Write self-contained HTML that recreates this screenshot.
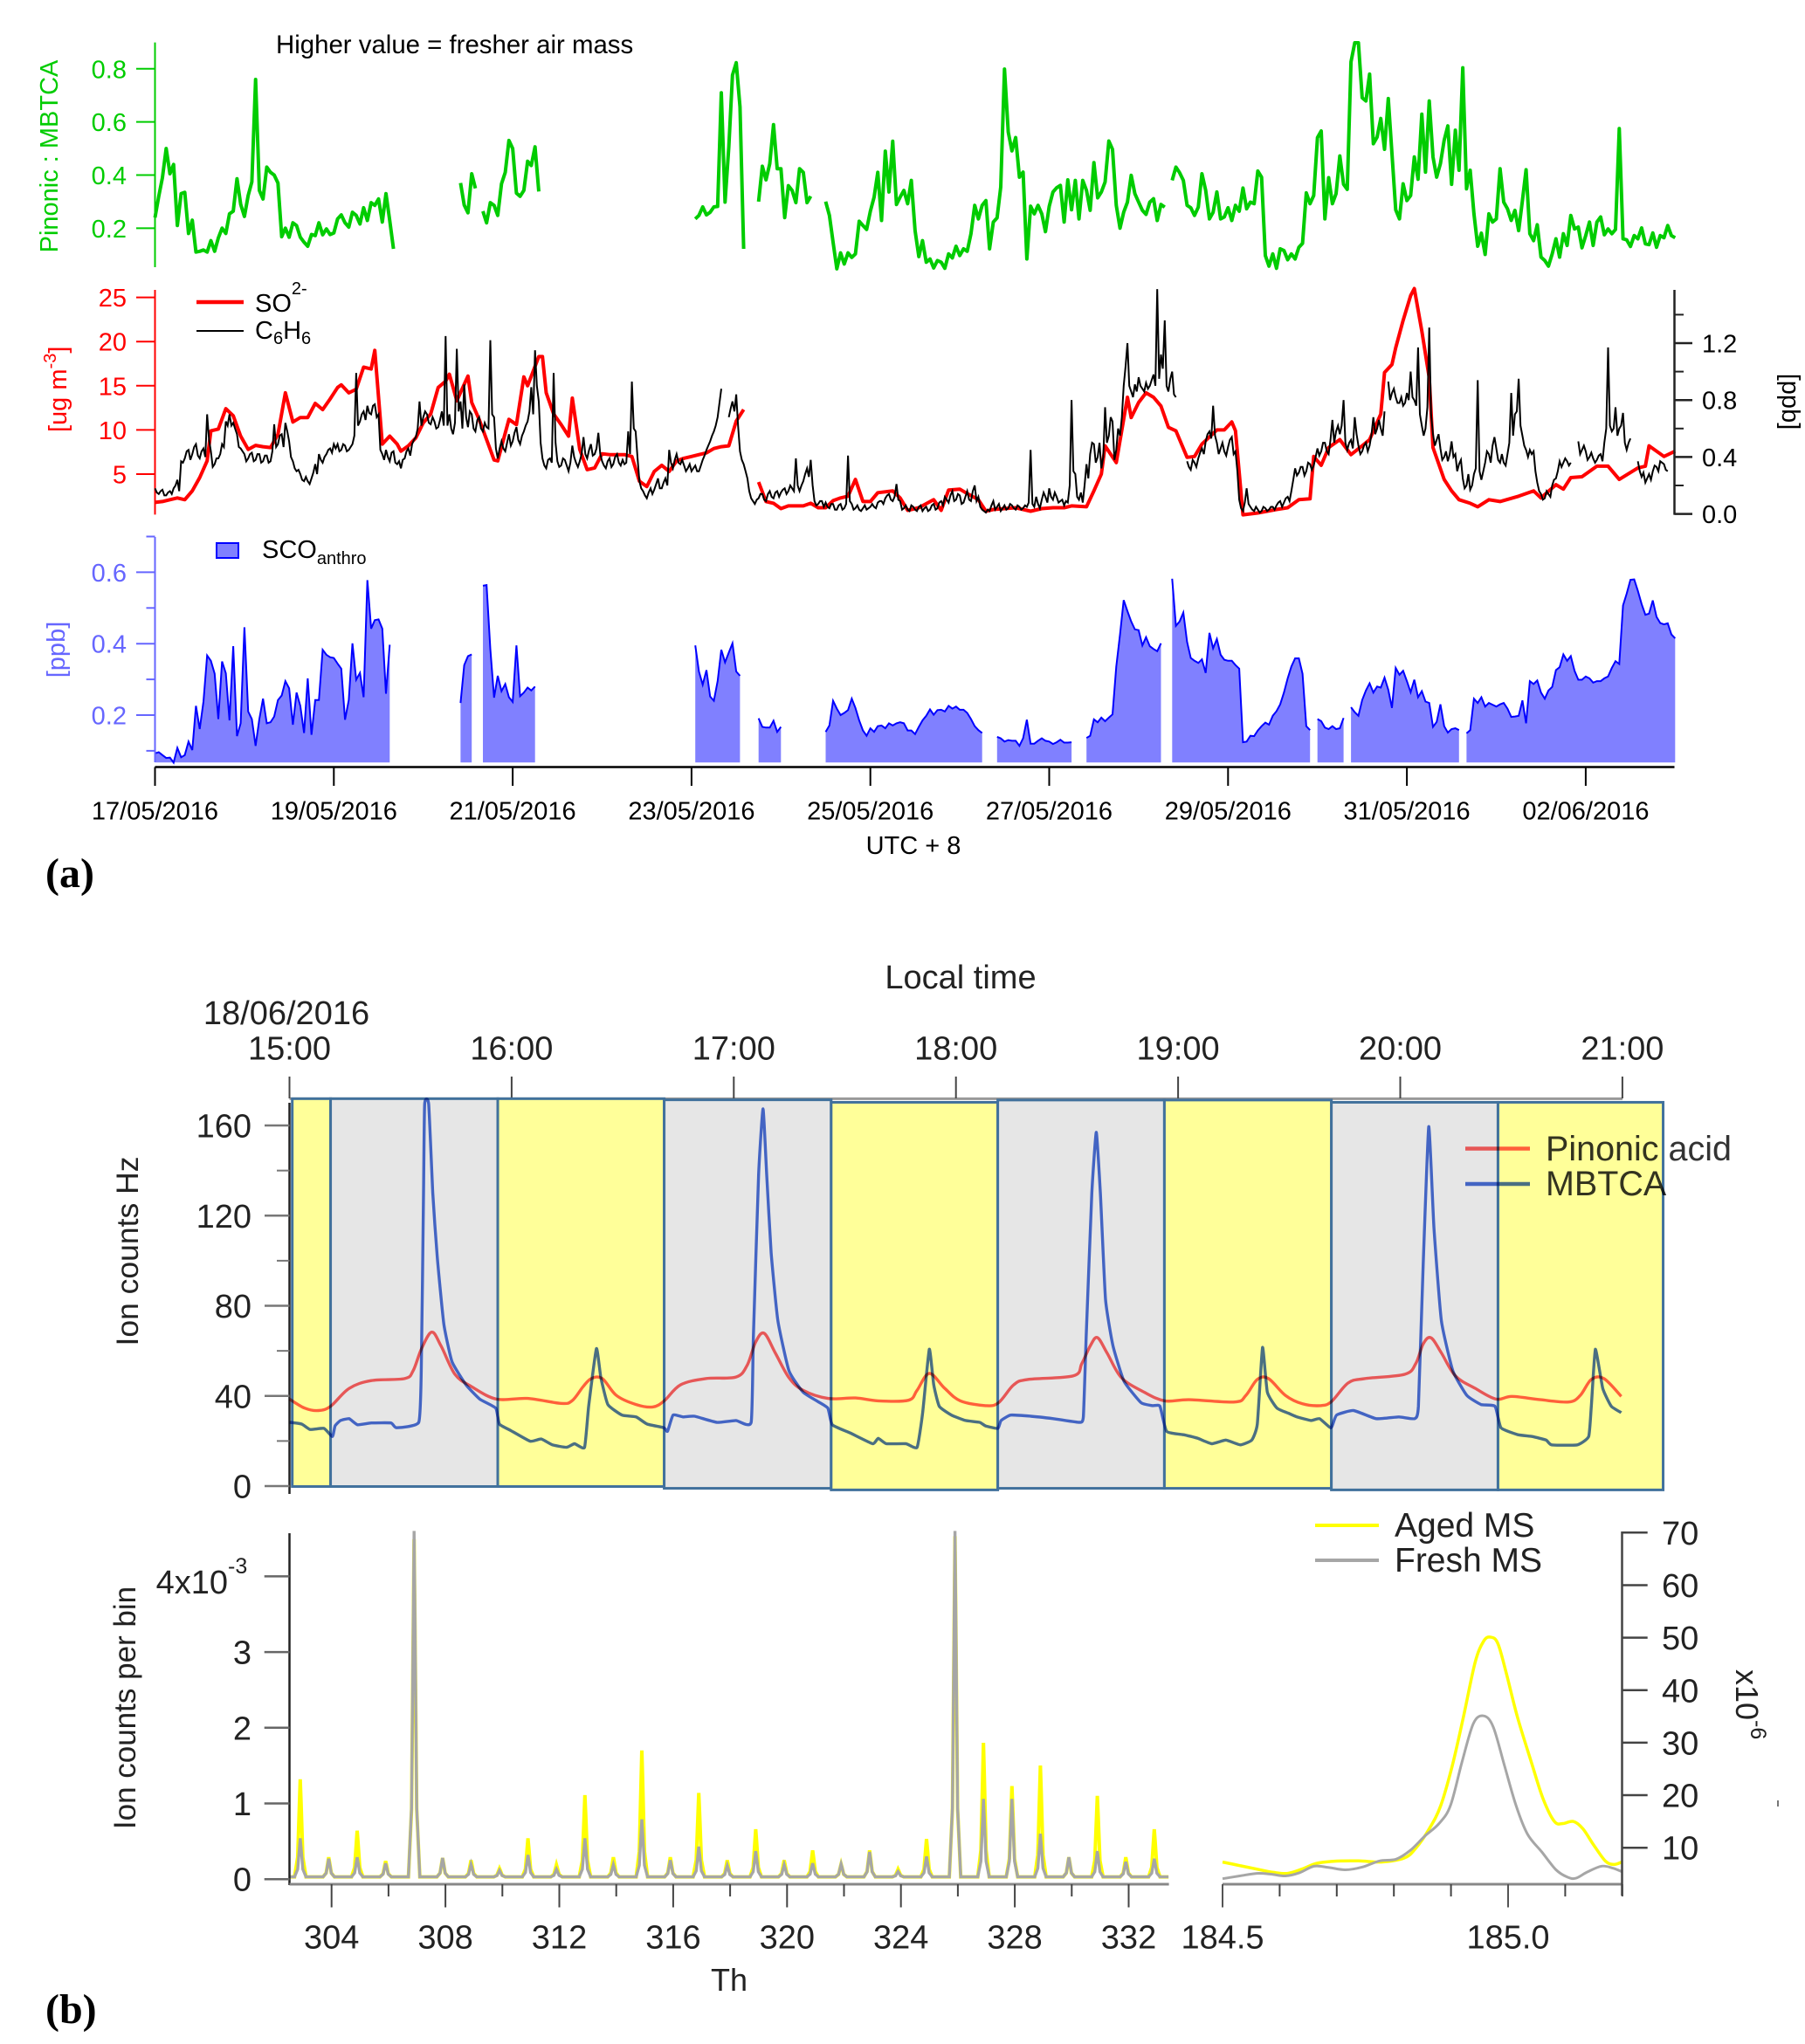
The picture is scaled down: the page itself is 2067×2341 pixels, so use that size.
<!DOCTYPE html>
<html lang="en">
<head>
<meta charset="utf-8">
<title>Pinonic acid and MBTCA time series and mass spectra</title>
<style>
html,body{margin:0;padding:0;background:#fff;}
svg{display:block;font-family:"Liberation Sans",Arial,sans-serif;}
.mult{mix-blend-mode:multiply;}
</style>
</head>
<body>
<svg id="fig" xmlns="http://www.w3.org/2000/svg" width="2067" height="2341" viewBox="0 0 2067 2341">
<rect x="0" y="0" width="2067" height="2341" fill="#fff"/>
<g id="layerA"></g>
<g id="layerB"></g>

<text x="316" y="61" font-size="29.4" fill="#000">Higher value = fresher air mass</text>
<text transform="translate(66,179) rotate(-90)" text-anchor="middle" font-size="29" fill="#00cc00">Pinonic : MBTCA</text>
<text transform="translate(76,495) rotate(-90)" font-size="29" fill="#ff0000">[ug m<tspan font-size="20" dy="-12">-3</tspan><tspan dy="12">]</tspan></text>
<text transform="translate(2041,460) rotate(90)" text-anchor="middle" font-size="29" fill="#000">[ppb]</text>
<text transform="translate(74,744) rotate(-90)" text-anchor="middle" font-size="29" fill="#6666ff">[ppb]</text>

<line x1="225" y1="346" x2="279" y2="346" stroke="#ff0000" stroke-width="4.5"/>
<text x="292" y="357" font-size="29" fill="#000">SO<tspan font-size="20" dy="-20">2-</tspan></text>
<line x1="225" y1="379" x2="279" y2="379" stroke="#000" stroke-width="2"/>
<text x="292" y="388" font-size="29" fill="#000">C<tspan font-size="20" dy="6">6</tspan><tspan dy="-6">H</tspan><tspan font-size="20" dy="6">6</tspan></text>

<rect x="248" y="622" width="25" height="17" fill="#8080ff" stroke="#0000ff" stroke-width="2"/>
<text x="300" y="639" font-size="29" fill="#000">SCO<tspan font-size="20" dy="7">anthro</tspan></text>

<text x="1046" y="978" text-anchor="middle" font-size="29" fill="#000">UTC + 8</text>
<text x="52" y="1016" font-family="Liberation Serif, serif" font-weight="bold" font-size="48" fill="#000">(a)</text>

<text x="1100" y="1132" text-anchor="middle" font-size="38" fill="#222">Local time</text>
<text x="328" y="1173" text-anchor="middle" font-size="38" fill="#222">18/06/2016</text>
<text transform="translate(158,1433) rotate(-90)" text-anchor="middle" font-size="35.5" fill="#222">Ion counts Hz</text>
<text transform="translate(155,1956) rotate(-90)" text-anchor="middle" font-size="35" fill="#222">Ion counts per bin</text>
<text x="835" y="2280" text-anchor="middle" font-size="36" fill="#222">Th</text>
<text x="52" y="2317" font-family="Liberation Serif, serif" font-weight="bold" font-size="48" fill="#000">(b)</text>

<text x="261" y="1825" text-anchor="end" font-size="38" fill="#222">4x10</text>
<text x="261" y="1802" font-size="25" fill="#222">-3</text>
<text transform="translate(1988,1912) rotate(90)" font-size="36" fill="#222">x10<tspan font-size="25" dy="-17">-6</tspan></text>
<rect x="2035" y="2062" width="2" height="7" fill="#777"/>

<line x1="1506" y1="1747" x2="1579" y2="1747" stroke="#ffff00" stroke-width="4"/>
<text x="1597" y="1760" font-size="39" fill="#222">Aged MS</text>
<line x1="1506" y1="1787" x2="1579" y2="1787" stroke="#a6a6a6" stroke-width="4"/>
<text x="1597" y="1800" font-size="39" fill="#222">Fresh MS</text>
</svg>

<script>
// ---------- Panel (a) data: hourly series, index = hours since 17/05/2016 00:00 ----------
const pinonicRatio = [
.24,.32,.39,.50,.405,.44,.21,.33,.335,.18,.23,.11,.113,.118,.11,.153,.113,.163,.20,.18,.254,.264,.386,.29,.244,.323,.374,.76,.342,.31,.43,.41,.40,.37,.168,.20,.166,.22,.21,.166,.147,.132,.176,.172,.22,.175,.197,.176,.182,.235,.25,.22,.204,.26,.248,.216,.277,.229,.296,.286,.31,.223,.33,.229,.122,
null,null,null,null,null,null,null,null,null,null,null,null,null,null,null,null,null,
.37,.287,.258,.405,.35,null,
.264,.22,.296,.286,.248,.367,.41,.53,.50,.332,.32,.342,.452,.436,.506,.338,
null,null,null,null,null,null,null,null,null,null,null,null,null,null,null,null,null,null,null,null,null,null,null,null,null,null,null,null,null,null,null,null,null,null,null,null,null,null,null,null,null,
.235,.248,.28,.25,.26,.28,.282,.71,.298,.506,.776,.823,.657,.122,
null,null,null,
.30,.433,.382,.443,.59,.424,.424,.24,.36,.342,.296,.424,.41,.296,.32,
null,null,null,
.30,.248,.147,.047,.107,.065,.107,.09,.103,.226,.21,.195,.264,.317,.41,.229,.49,.336,.527,.289,.317,
.342,.292,.38,.191,.093,.153,.072,.084,.05,.078,.072,.049,.103,.088,.132,.097,.122,.113,.179,.286,.235,.286,.304,.122,.223,.239,.355,.799,.562,.491,.541,.392,.411,.084,.283,.254,.286,.254,.187,.282,.336,.352,.361,.223,.382,.269,.38,.235,.38,.342,.267,.447,.314,.336,.374,.528,.497,.286,.2,.26,.298,.399,.33,.298,.267,.252,.298,.311,.229,.289,.279,
null,
.38,.43,.409,.38,.286,.277,.248,.279,.405,.342,.235,.26,.336,.235,.242,.277,.229,.286,.264,.351,.273,.298,.292,.415,.392,.097,.057,.103,.049,.122,.116,.081,.103,.084,.128,.143,.333,.292,.323,.541,.566,.235,.39,.292,.33,.472,.365,.346,.826,.898,.898,.691,.679,.78,.518,.543,.613,.497,.688,.481,.269,.235,.367,.304,.323,.468,.384,.629,.411,.679,.468,.392,.443,.531,.585,.365,.569,.418,.804,.348,.418,.254,.132,.181,.101,.254,.223,.235,.424,.298,.273,.229,.267,.191,.304,.42,.179,.153,.213,.091,.078,.057,.103,.16,.091,.179,.135,.248,.197,.204,.126,.172,.223,.135,.223,.242,.175,.197,.179,.195,.575,.16,.156,.131,.172,.16,.201,.141,.138,.182,.128,.172,.164,.21,.172,.164];

const sulfateHours = [0,2,4,6,8,10,12,14,15,17,19,21,23,25,27,29,31,33,35,37,39,41,43,45,47,49,50,52,54,56,58,59,61,63,65,66,68,70,72,74,76,78,79,81,84,85,87,91,92,95,97,99,100,103,104,105,107,109,111,112,114,116,118,120,122,124,126,128,130,132,134,136,138,140,142,144,146,148,150,152,154,156,158,160,
162,164,166,168,170,172,174,176,178,180,182,184,186,188,190,192,194,198,200,
202,205,209,211,213,216,218,221,223,225,228,231,235,238,241,244,246,250,252,254,255,258,261,262,264,266,268,270,272,274,277,279,281,285,287,289,290,292,296,301,304,307,310,311,313,315,318,321,324,326,329,330,332,333,335,337,338,340,342,343,346,348,350,353,355,358,361,366,370,372,376,378,380,383,387,390,393,398,400,401,405,408];
const sulfateValues = [1.8,1.9,2.1,2.3,2.1,3.1,4.6,6.5,9.9,10.1,12.4,11.6,9.3,7.8,8.25,8.1,8,9.5,14.2,10.9,11.4,11.4,13,12.3,13.5,14.8,15.1,14.2,14.6,17.1,16.9,19,8.4,9.3,8.4,7.6,8.2,9.1,10.8,11.8,14.8,15.5,16.3,13.3,16.1,13.1,11.2,6.6,6.5,11.2,10.6,16,15,18.3,18.3,14.2,11.8,10.6,9.3,13.6,7.8,5.5,5.7,7.3,7.2,7.2,7.2,7,4.2,3.6,5.3,6,5.3,6.5,6.8,7,7.2,7.4,7.9,8.1,8.2,11,12.3,null,
4.1,1.9,1.7,1.1,1.4,1.4,1.4,1.7,1.2,1.2,2,2.3,2.5,4.4,1.9,1.9,2.9,3.1,2.3,
.9,1.2,2.1,.9,3.2,3.3,2.8,2.1,.8,1,1.1,1.2,.8,1.1,1.2,1.2,1.4,1.3,3.1,5,8.2,6.3,13.7,11.4,13.1,14.2,13.7,12.7,10.3,9.9,6.9,7,8.4,10,10,10.9,9.9,.4,.6,1,1.2,2.1,2.2,7,6,8,8.9,7.2,8.2,8.9,11.8,16.5,17.4,19.3,22.4,25.2,26,21.2,15.9,8,4.4,3.1,2.1,1.7,1.3,2.1,1.9,2.5,3.1,2.3,3.8,3.3,4.6,4.7,5.9,5.9,4.4,5.7,5.9,8.2,7,7.6];

// benzene readings on the hour
const benzeneValues = [
.18,.14,.17,.13,.16,.18,.24,.37,.39,.45,.42,.49,.39,.46,.70,.44,.35,.39,.49,.65,
.70,.64,.56,.46,.42,.39,.43,.38,.42,.37,.41,.37,.63,.49,.56,.64,.51,.37,.30,.28,
.23,.23,.25,.35,.42,.36,.42,.46,.49,.49,.45,.48,.45,.49,.99,.65,.72,.76,.70,.77,
.70,.42,.45,.37,.44,.35,.32,.39,.46,.49,.54,.79,.68,.70,.63,.65,.61,.72,1.25,.70,
.56,1.16,.79,.91,.61,.70,.58,.68,.58,.61,1.22,.68,.39,.51,.44,.56,.51,.61,.49,.58,
.65,.89,1.15,.79,.39,.32,.39,.99,.37,.34,.38,.30,.48,.36,.37,.54,.39,.49,.42,.57,
.37,.32,.39,.35,.42,.34,.35,.58,.93,.58,.23,.16,.11,.18,.17,.25,.18,.25,.45,.32,
.42,.35,.34,.32,.30,.34,.30,.38,.45,.51,.58,.68,.88,null,.68,.79,.84,.44,.35,.25,
.11,.07,.11,.14,.09,.16,.11,.16,.15,.18,.16,.18,.39,.16,.23,.32,.38,.09,.07,.09,
.08,.04,.07,.03,.07,.04,.41,.07,.04,.03,.04,.03,.05,.05,.08,.09,.11,.14,.09,.21,
.09,.04,.03,.06,.03,.05,.02,.05,.03,.07,.04,.09,.12,.08,.16,.1,.13,.08,.16,.09,
.2,.12,.03,.01,.02,.09,.05,.02,.06,.04,.06,.03,.05,.04,.05,.45,.05,.07,.1,.12,
.18,.1,.12,.09,.06,.08,.8,.28,.1,.08,.35,.42,.49,.4,.32,.75,.55,.65,.45,.55,
.9,1.2,.86,.91,.96,.88,.92,.9,.98,1.58,1.12,1.36,.86,1,.82,null,null,.37,.31,.36,
.39,.46,.51,.58,.76,.5,.46,.44,.47,.54,.44,.1,.02,.18,.05,.02,.03,.02,.04,.03,
.05,.06,.09,.08,.12,.16,.32,.29,.33,.3,.35,.34,.46,.44,.5,.42,.66,.58,.56,.8,
.45,.52,.68,.48,.44,.5,.48,.68,.6,.6,.72,.93,.85,.82,.78,.76,.85,1,.8,1.17,
.62,.6,1.31,.56,.52,.46,.4,.37,.51,.42,.35,.25,.2,.17,.28,.94,.24,.36,.42,.48,
.46,.36,.36,.42,.85,.7,.95,.55,.45,.45,.44,.22,.14,.11,.14,.2,.25,.37,.36,.37,
.36,null,.51,.45,.44,.4,.39,.38,.42,.5,1.17,.58,.75,.6,.71,.45,.53,null,.37,.26,
.22,.28,.3,.33,.37,.35,.3];
// benzene readings on the half hour
const benzeneHalfHourValues = [
.15,.16,.13,.15,.14,.2,.16,.36,.44,.38,.47,.41,.44,.4,.52,.33,.39,.42,.47,.62,
.62,.6,.47,.44,.37,.42,.37,.42,.36,.41,.36,.44,.47,.55,.47,.58,.4,.32,.31,.24,
.26,.21,.29,.28,.38,.4,.45,.43,.46,.44,.49,.44,.47,.55,.62,.7,.66,.71,.76,.68,
.45,.38,.4,.43,.36,.37,.38,.44,.41,.52,.6,.62,.72,.64,.68,.6,.66,.62,.62,.6,
.64,.72,.6,.68,.72,.6,.66,.6,.64,.6,.7,.46,.46,.46,.5,.48,.57,.52,.55,.62,
.72,.7,.9,.5,.34,.38,.36,.5,.33,.39,.34,.36,.4,.33,.42,.42,.45,.41,.46,.42,
.34,.37,.33,.4,.36,.38,.36,.42,.6,.4,.18,.13,.15,.14,.21,.18,.22,.2,.36,.38,
.36,.38,.3,.35,.32,.3,.34,.41,.48,.55,.62,.78,null,null,.74,.72,.62,.38,.3,.16,
.09,.1,.14,.1,.14,.12,.15,.12,.17,.14,.2,.16,.2,.2,.28,.26,.2,.06,.09,.05,
.05,.07,.03,.06,.03,.07,.09,.03,.06,.02,.06,.04,.07,.04,.09,.07,.13,.1,.12,.1,
.03,.06,.02,.05,.02,.06,.04,.02,.06,.03,.08,.06,.1,.13,.09,.14,.07,.12,.1,.16,
.09,.05,.02,.03,.06,.03,.07,.04,.03,.07,.04,.06,.03,.06,.08,.07,.12,.04,.15,.08,
.12,.15,.08,.1,.09,.2,.3,.12,.15,.2,.25,.5,.36,.5,.4,.5,.68,.38,.6,.68,
1.04,.9,.82,.86,.9,.86,.88,.94,.9,.95,1.02,.9,.95,.84,null,null,null,.33,.38,.33,
.43,.42,.56,.53,.55,.42,.5,.41,.52,.42,.3,.04,.08,.07,.03,.05,.01,.05,.02,.05,
.03,.08,.05,.11,.09,.24,.27,.33,.27,.36,.31,.4,.41,.5,.44,.52,.5,.62,.62,.5,
.5,.46,.56,.42,.48,.44,.56,.56,.66,.55,null,.8,.88,.78,.82,.78,.8,.82,.76,.7,
.55,.75,.7,.48,.56,.38,.44,.42,.4,.3,.38,.18,.28,.2,.32,.3,.3,.44,.36,.54,
.38,.42,.34,.5,.55,.72,.62,.48,.4,.42,.3,.16,.1,.16,.12,.24,.3,.33,.39,.34,
null,null,.42,.48,.38,.43,.36,.41,.37,.6,.62,.6,.55,.62,.5,.5,null,null,.3,.29,
.25,.24,.34,.3,.36,.31];

const scoValues = [
.093,.096,.088,.08,.081,.067,.108,.082,.088,.126,.102,.226,.161,.238,.367,.352,.316,.189,.35,.317,.185,.393,.141,.177,.446,.21,.189,.114,.189,.246,.177,.18,.196,.242,.255,.295,.275,.173,.263,.226,.15,.303,.145,.242,.242,.383,.369,.362,.36,.344,.33,.187,.242,.401,.299,.318,.25,.578,.442,.466,.468,.442,.26,.397,
null,null,null,null,null,null,null,null,null,null,null,null,null,null,null,null,null,null,
.234,.34,.365,.37,null,null,
.562,.564,.385,.249,.31,.267,.287,.25,.237,.395,.253,.263,.277,.269,.28,
null,null,null,null,null,null,null,null,null,null,null,null,null,null,null,null,null,null,null,null,null,null,null,null,null,null,null,null,null,null,null,null,null,null,null,null,null,null,null,null,null,null,
.395,.322,.285,.326,.252,.24,.295,.383,.348,.375,.401,.322,.31,
null,null,null,null,
.191,.167,.165,.165,.184,.153,.167,
null,null,null,null,null,null,null,null,null,null,null,
.153,.171,.24,.218,.2,.206,.214,.246,.22,.185,.157,.142,.163,.153,.169,.171,.163,.177,.171,.177,.18,
.177,.157,.157,.147,.167,.185,.198,.216,.201,.214,.215,.21,.226,.218,.224,.215,.215,.206,.189,.169,.158,.15,
null,null,null,
.139,.135,.126,.13,.128,.128,.114,.135,.187,.12,.12,.128,.135,.128,.126,.119,.124,.131,.123,.123,.124,
null,null,null,
.136,.142,.188,.18,.193,.183,.193,.202,.336,.426,.522,.491,.462,.44,.438,.395,.418,.393,.385,.379,.401,
null,null,
.582,.45,.462,.487,.405,.36,.352,.346,.356,.318,.43,.387,.413,.369,.355,.352,.352,.34,.33,.124,.126,.142,.141,.157,.169,.179,.173,.198,.211,.23,.263,.303,.336,.359,.359,.316,.169,.158,
null,
.189,.183,.165,.161,.169,.161,.163,.192,
null,
.222,.208,.198,.242,.269,.289,.263,.28,.277,.305,.271,.22,.332,.313,.324,.295,.264,.299,.25,.267,.238,.234,.167,.181,.23,.169,.151,.161,.163,.158,
null,
.149,.158,.246,.234,.25,.224,.234,.229,.224,.23,.234,.218,.195,.196,.198,.241,.177,.295,.287,.297,.263,.246,.269,.279,.326,.334,.37,.352,.365,.324,.299,.299,.308,.303,.291,.295,.295,.303,.308,.332,.351,.343,.507,.54,.579,.58,.548,.511,.481,.484,.521,.475,.458,.454,.457,.426,.415];

const ratioTicks = [0.2,0.4,0.6,0.8];
const sulfateTicks = [5,10,15,20,25];
const benzeneMajorTicks = [0,0.4,0.8,1.2];
const benzeneMinorTicks = [0.2,0.6,1.0,1.4];
const scoMajorTicks = [0.2,0.4,0.6];
const scoMinorTicks = [0.1,0.3,0.5,0.7];
const dateTickDays = [0,2,4,6,8,10,12,14,16];
const dateTickLabels = ['17/05/2016','19/05/2016','21/05/2016','23/05/2016','25/05/2016','27/05/2016','29/05/2016','31/05/2016','02/06/2016'];

// ---------- Panel (b) top data: minutes since 15:00 ----------
const mbtcaMinutes = [0,3.3,5.6,9.3,11.6,12.3,13.8,16.1,18.4,22.1,27.4,28.9,34.9,35.6,36.2,36.5,37.6,38.7,39.9,41.7,43.9,47.7,51.4,55.7,56.7,59.7,65,68,71,74.8,77,79.7,80.8,82.9,84.1,86,89.8,93.6,96.6,101.1,102.1,103.6,106.3,109.4,115.4,120.6,124.7,125.3,126.7,127.9,128.9,130.1,131.9,134.9,138.7,142.4,145.4,146.6,151.4,157.5,159,161.2,166.5,169.5,171,172.8,174,175.5,178.8,182.6,186.4,188,191.3,192.2,194.8,200.2,206.3,213.2,214.4,215.2,216.7,217.9,219,220.4,222.4,225.4,230,233.1,235.1,236.9,241.5,245.3,249.1,252.9,256.8,259.9,261.4,262.8,264.1,266.7,269.8,272.1,275.9,278.2,281.3,282.8,287.4,293.5,299.6,303.9,304.9,306.2,307.7,309.1,311.1,314.2,318,321.8,325.6,327.2,331.8,335.6,339.4,340.9,347.8,350.9,351.6,352.7,354.7,357,359.7];
const mbtcaCounts = [28.3,27.5,25.1,25.6,22,26.7,29.1,29.9,27.2,28,28,25.9,28.3,51.2,130,169.5,169.5,130,101.8,71.8,55.2,44.9,38.6,34.6,27.5,24.7,19.9,20.9,18.3,17.2,18.8,17.2,35.4,61,48.1,36.2,31.5,30.7,27.5,25.9,24.3,31.5,30.7,31,28.3,29.1,28.3,67,138,167.4,138,103.4,73.4,51.2,41.7,37.8,34.6,27.2,23.6,18.8,21.2,18.8,18.8,17.2,32.3,60.7,44.9,35.4,31.5,29.1,28.3,26.7,25.6,29.1,31.5,31,29.9,28.3,30.7,67,130,157,130,82.8,62.3,46.5,37,35.7,35.4,24.3,22.8,21.2,18.8,20.4,18.3,20.4,27.5,61.5,41.7,34.6,32.3,30.7,29.1,29.9,25.9,31.5,33.5,29.9,30.7,29.9,35.4,98.7,159.5,114.5,73.4,51.2,40.2,36.2,35.4,25.9,22.8,22,20.4,18.3,18.3,22,35.4,60.7,43.3,35.4,32.6];
const pinonicMinutes = [0,4.1,7.8,11.1,16.1,22.1,31.1,33.4,35.6,38.4,40.9,44.7,49.2,55.9,64.2,73.3,76.3,79.3,81.5,84.5,88.3,93.6,98.1,101.2,105.6,112.4,120.6,123.6,125.9,128.2,131.2,134.9,138.7,145.4,152.9,159,167.2,169.5,172.8,177,181.2,188,191.5,195.6,199.4,211.7,214,216.3,218.2,220.8,224.7,230.8,236.4,243,255.3,258.3,261.4,264.4,269,273.6,278.2,281.3,285.9,290.4,301.2,304.2,306.2,308.3,311.1,314.9,320.3,325.9,330.2,337.9,345.5,348.6,351.6,355,359.7];
const pinonicCounts = [38.6,34.6,33.5,35.4,43.3,46.8,47.7,51.2,60.7,68.3,62.3,49.6,44.1,38.6,38.9,36.7,37.8,44.1,47.7,47.7,40.2,36.2,35.1,37.8,44.9,47.7,48.4,53.6,63.9,67.8,59.1,48.1,42.5,38.9,39.1,37.8,38.1,42.5,50,43.3,37.8,35.7,37,44.9,47.3,48.9,54.4,62.3,65.9,59.1,48.1,41.7,37.8,38.3,37.3,40.2,47.3,47.7,40.2,36.5,35.7,37.3,45.7,47.7,49.6,54.4,63.1,65.8,59.1,48.9,43.3,38.6,39.8,38.3,37.3,40.2,47.3,47.7,39.8];
const bandEdges = [0.75,11.1,56.25,101.2,146.3,191.3,236.3,281.4,326.4,371];
const bandTypes = ['aged','fresh','aged','fresh','aged','fresh','aged','fresh','aged'];
const bandTop = [171.9,171.9,171.9,171.4,170.3,171.3,171.3,170.3,170.3];
const bandBottom = [-0.2,-0.2,-0.2,-1,-1.7,-1,-1,-1.7,-1.7];
const timeTickMinutes = [0,60,120,180,240,300,360];
const timeTickLabels = ['15:00','16:00','17:00','18:00','19:00','20:00','21:00'];
const countMajorTicks = [0,40,80,120,160];
const countMinorTicks = [20,60,100,140];

// ---------- Panel (b) bottom data ----------
const peakMass = [302.9,303.9,304.9,305.9,306.9,307.9,308.9,309.9,310.9,311.9,312.9,313.9,314.9,315.9,316.9,317.9,318.9,319.9,320.9,321.9,322.9,323.9,324.9,325.9,326.9,327.9,328.9,329.9,330.9,331.9,332.9];
const agedPeak = [1.29,.26,.61,.21,4.46,.25,.22,.11,.51,.16,1.08,.26,1.67,.26,1.11,.22,.63,.22,.35,.17,.35,.1,.5,4.5,1.77,1.2,1.47,.26,1.07,.26,.63];
const freshPeak = [.51,.24,.26,.18,4.57,.25,.17,.085,.29,.1,.51,.16,.76,.22,.4,.15,.34,.16,.18,.17,.33,.07,.27,4.57,1.03,1.03,.57,.26,.34,.2,.24];
const peakYTicks = [0,1,2,3,4];
const peakYLabels = ['0','1','2','3',''];
const massMajorTicks = [304,308,312,316,320,324,328,332];
const massMinorTicks = [306,310,314,318,322,326,330];
const agedZoomMass = [184.5,184.53,184.56,184.589,184.614,184.639,184.664,184.694,184.738,184.778,184.818,184.838,184.862,184.882,184.902,184.922,184.942,184.957,184.969,184.982,184.997,185.016,185.041,185.061,185.081,185.096,185.114,185.131,185.15,185.17,185.185,185.2];
const agedZoomSignal = [7.28,6.6,5.92,5.31,5.11,5.92,7.01,7.42,7.49,7.28,8.03,9.86,13.6,18,25.5,35,45.2,49.3,50.1,48.9,43.2,35,26.2,19.4,15,14.6,15,13.6,10.5,7.5,6.8,7.3];
const freshZoomMass = [184.5,184.53,184.56,184.585,184.61,184.635,184.66,184.685,184.715,184.745,184.775,184.804,184.829,184.854,184.879,184.899,184.919,184.939,184.957,184.974,184.994,185.014,185.034,185.059,185.084,185.104,185.119,185.139,185.164,185.184,185.2];
const freshZoomSignal = [4.09,4.63,5.11,4.97,4.63,5.24,6.47,6.26,5.79,6.33,7.49,7.83,9.52,12.2,14.6,18,26.2,33.6,35.1,33,25.5,18,12.6,9.2,5.8,4.4,4.2,5.4,6.5,6.1,5.4];
const zoomMajorTicks = [184.5,185.0];
const zoomMinorTicks = [184.6,184.7,184.8,184.9,185.1,185.2];
const zoomYTicks = [10,20,30,40,50,60,70];

// ---------- Axis functions ----------
const xHour = h => 177.5 + h * 102.4 / 24;
const xDay = d => 177.5 + d * 102.4;
const yRatio = v => 78.8 + (0.8 - v) * 304.2;
const ySulfate = v => 543 - (v - 5) * 10.12;
const yBenzene = v => 588.6 - v * 163;
const ySco = v => 819 - (v - 0.2) * 409;
const SCO_BASE = 0.0675;
const xMin = m => 331.5 + m * 4.24;
const yCount = v => 1702 - v * 2.581;
const xMass = m => 379.7 + (m - 304) * 32.6;
const yPeak = v => 2152.2 - v * 86.7;
const xZoom = m => 1400 + (m - 184.5) * 654;
const yZoom = v => 2116.2 - (v - 10) * 6.015;

const NS = 'http://www.w3.org/2000/svg';
const A = document.getElementById('layerA');
const B = document.getElementById('layerB');
function make(tag, attrs, parent) {
  const el = document.createElementNS(NS, tag);
  for (const k in attrs) el.setAttribute(k, attrs[k]);
  parent.appendChild(el);
  return el;
}
function linePath(xs, ys) {
  let d = '', pen = false;
  for (let i = 0; i < xs.length; i++) {
    if (ys[i] === null || ys[i] === undefined) { pen = false; continue; }
    d += (pen ? 'L' : 'M') + xs[i].toFixed(1) + ' ' + ys[i].toFixed(1);
    pen = true;
  }
  return d;
}
// Catmull-Rom curve through every data vertex, for the smooth lines of panel (b)
function curvePath(xs, ys, t) {
  let d = 'M' + xs[0].toFixed(1) + ' ' + ys[0].toFixed(1);
  for (let i = 0; i < xs.length - 1; i++) {
    const p = Math.max(i - 1, 0), n = Math.min(i + 2, xs.length - 1);
    const c1x = xs[i] + (xs[i+1] - xs[p]) / 6 * t, c1y = ys[i] + (ys[i+1] - ys[p]) / 6 * t;
    const c2x = xs[i+1] - (xs[n] - xs[i]) / 6 * t, c2y = ys[i+1] - (ys[n] - ys[i]) / 6 * t;
    d += 'C' + c1x.toFixed(1) + ' ' + c1y.toFixed(1) + ' ' + c2x.toFixed(1) + ' ' + c2y.toFixed(1) + ' ' + xs[i+1].toFixed(1) + ' ' + ys[i+1].toFixed(1);
  }
  return d;
}
function seriesPath(hours, values, fx, fy) {
  return linePath(hours.map(fx), values.map(v => (v === null ? null : fy(v))));
}
function hourIndex(values) { return values.map((_, i) => i); }

function yAxis(parent, x, y1, y2, color, width, name) {
  const el = make('line', {x1:x, y1:y1, x2:x, y2:y2, stroke:color, 'stroke-width':width}, parent);
  
  
}
function yTicks(parent, values, fy, x1, x2, color, width, name) {
  values.forEach(v => {
    const t = make('line', {x1:x1, x2:x2, y1:fy(v), y2:fy(v), stroke:color, 'stroke-width':width}, parent);
    
    
  });
}
function xTicks(parent, values, fx, y1, y2, color, width, name) {
  values.forEach(v => {
    const t = make('line', {x1:fx(v), x2:fx(v), y1:y1, y2:y2, stroke:color, 'stroke-width':width}, parent);
    
    
  });
}
function labelsAt(parent, items, fx, fy, anchor, size, color, name) {
  items.forEach(it => {
    const t = make('text', {x:fx(it), y:fy(it), 'text-anchor':anchor, 'font-size':size, fill:color}, parent);
    
    
    t.textContent = it.text;
  });
}

// ---------- Panel (a) ----------
yAxis(A, 177.5, 48.6, 306, '#00cc00', 2, 'ratio-y-axis');
yTicks(A, ratioTicks, yRatio, 156, 177.5, '#00cc00', 2, 'ratio-y-tick');
labelsAt(A, ratioTicks.map(v => ({v:v, text:v.toFixed(1)})), () => 145, it => yRatio(it.v) + 10.5, 'end', 29, '#00cc00', 'ratio-y-tick-label');
const ratioLine = make('path', {d:seriesPath(hourIndex(pinonicRatio), pinonicRatio, xHour, yRatio), fill:'none', stroke:'#00cc00', 'stroke-width':4, 'stroke-linejoin':'round'}, A);



yAxis(A, 177.5, 332, 589.4, '#ff0000', 2, 'sulfate-y-axis');
yTicks(A, sulfateTicks, ySulfate, 156, 177.5, '#ff0000', 2, 'sulfate-y-tick');
labelsAt(A, sulfateTicks.map(v => ({v:v, text:String(v)})), () => 145, it => ySulfate(it.v) + 10.5, 'end', 29, '#ff0000', 'sulfate-y-tick-label');
const sulfateLine = make('path', {d:seriesPath(sulfateHours, sulfateValues, xHour, ySulfate), fill:'none', stroke:'#ff0000', 'stroke-width':4, 'stroke-linejoin':'round'}, A);



// merge the hourly and half-hourly benzene readings into one time-ordered trace
const benzeneTimes = [];
const benzeneMerged = [];
benzeneValues.forEach((v, i) => {
  benzeneTimes.push(i);
  benzeneMerged.push(v);
  if (i < benzeneHalfHourValues.length) {
    benzeneTimes.push(i + 0.5);
    benzeneMerged.push(benzeneHalfHourValues[i]);
  }
});
const benzeneLine = make('path', {d:seriesPath(benzeneTimes, benzeneMerged, xHour, yBenzene), fill:'none', stroke:'#000', 'stroke-width':2}, A);



yAxis(A, 1917.5, 332, 589.6, '#222', 2.5, 'benzene-y-axis');
yTicks(A, benzeneMajorTicks, yBenzene, 1917.5, 1938, '#222', 2.5, 'benzene-y-tick');
yTicks(A, benzeneMinorTicks, yBenzene, 1917.5, 1928, '#222', 2, 'benzene-y-minor-tick');
labelsAt(A, benzeneMajorTicks.map(v => ({v:v, text:v.toFixed(1)})), () => 1949, it => yBenzene(it.v) + 10.5, 'start', 29, '#000', 'benzene-y-tick-label');

// SCO area: one filled block per contiguous run of data
let runStart = null;
for (let i = 0; i <= scoValues.length; i++) {
  const hasValue = i < scoValues.length && scoValues[i] !== null;
  if (hasValue && runStart === null) runStart = i;
  if (!hasValue && runStart !== null) {
    const hrs = [], vals = [];
    for (let j = runStart; j < i; j++) { hrs.push(j); vals.push(scoValues[j]); }
    const top = seriesPath(hrs, vals, xHour, ySco);
    const area = make('path', {d:top + 'L' + xHour(hrs[hrs.length-1]).toFixed(1) + ' ' + ySco(SCO_BASE).toFixed(1) + 'L' + xHour(hrs[0]).toFixed(1) + ' ' + ySco(SCO_BASE).toFixed(1) + 'Z', fill:'#8080ff', stroke:'none'}, A);
    
    
    const edge = make('path', {d:top, fill:'none', stroke:'#0000ff', 'stroke-width':2}, A);
    
    
    runStart = null;
  }
}
yAxis(A, 177.5, 615, 873, '#6666ff', 2, 'sco-y-axis');
yTicks(A, scoMajorTicks, ySco, 156, 177.5, '#6666ff', 2, 'sco-y-tick');
yTicks(A, scoMinorTicks, ySco, 167.5, 177.5, '#6666ff', 2, 'sco-y-minor-tick');
labelsAt(A, scoMajorTicks.map(v => ({v:v, text:v.toFixed(1)})), () => 145, it => ySco(it.v) + 10.5, 'end', 29, '#6666ff', 'sco-y-tick-label');

const dateAxis = make('line', {x1:177.5, x2:1917.5, y1:878.5, y2:878.5, stroke:'#000', 'stroke-width':2.5}, A);


xTicks(A, dateTickDays, xDay, 878.5, 900, '#000', 2, 'date-x-tick');
labelsAt(A, dateTickDays.map((d, i) => ({d:d, text:dateTickLabels[i]})), it => xDay(it.d), () => 938.5, 'middle', 29, '#000', 'date-x-tick-label');

// ---------- Panel (b) top ----------
const timeAxis = make('line', {x1:331.5, x2:1858, y1:1258.4, y2:1258.4, stroke:'#999', 'stroke-width':3}, B);


xTicks(B, timeTickMinutes, xMin, 1233, 1258, '#444', 2, 'time-x-tick');
labelsAt(B, timeTickMinutes.map((m, i) => ({m:m, text:timeTickLabels[i]})), it => xMin(it.m), () => 1213.5, 'middle', 38, '#222', 'time-x-tick-label');

bandTypes.forEach((type, i) => {
  const band = make('rect', {x:xMin(bandEdges[i]), y:yCount(bandTop[i]), width:xMin(bandEdges[i+1]) - xMin(bandEdges[i]), height:yCount(bandBottom[i]) - yCount(bandTop[i]), fill:type === 'aged' ? '#ffff99' : '#e6e6e6', stroke:'#41719c', 'stroke-width':3}, B);
  
  
});

yAxis(B, 331.5, 1263, 1711, '#222', 2.5, 'count-y-axis');
yTicks(B, countMajorTicks, yCount, 303, 331.5, '#777', 2.5, 'count-y-tick');
yTicks(B, countMinorTicks, yCount, 317, 331.5, '#777', 2, 'count-y-minor-tick');
labelsAt(B, countMajorTicks.map(v => ({v:v, text:String(v)})), () => 288, it => yCount(it.v) + 13.5, 'end', 38, '#222', 'count-y-tick-label');

const pinonicLine = make('path', {d:curvePath(pinonicMinutes.map(xMin), pinonicCounts.map(yCount), 1), fill:'none', stroke:'#ff6060', 'stroke-width':3.4, 'stroke-linejoin':'round', class:'mult'}, B);


const mbtcaLine = make('path', {d:curvePath(mbtcaMinutes.map(xMin), mbtcaCounts.map(yCount), 0.45), fill:'none', stroke:'#4a6fd8', 'stroke-width':3.4, 'stroke-linejoin':'round', class:'mult'}, B);



const legPin = make('line', {x1:1678, x2:1752, y1:1315.5, y2:1315.5, stroke:'#ff6060', 'stroke-width':4.5, class:'mult'}, B);


const legMb = make('line', {x1:1678, x2:1752, y1:1356, y2:1356, stroke:'#4a6fd8', 'stroke-width':4.5, class:'mult'}, B);


const legPinText = make('text', {x:1770, y:1329, 'font-size':39.5, fill:'#333', class:'mult'}, B);


legPinText.textContent = 'Pinonic acid';
const legMbText = make('text', {x:1770, y:1369, 'font-size':39.5, fill:'#333', class:'mult'}, B);


legMbText.textContent = 'MBTCA';

// ---------- Panel (b) bottom: spectrum ----------
const peakShapeOffset = [-0.2,-0.09,-0.03,0,0.03,0.09,0.2];
const peakShapeScale = [0,0.2,0.75,1,0.75,0.2,0];
function spectrumPath(heights) {
  const xs = [xMass(302.55)], ys = [yPeak(0.03)];
  peakMass.forEach((m, i) => {
    peakShapeOffset.forEach((off, k) => {
      xs.push(xMass(m + off));
      ys.push(yPeak(0.03 + heights[i] * peakShapeScale[k]));
    });
  });
  xs.push(xMass(333.4));
  ys.push(yPeak(0.03));
  return linePath(xs, ys);
}
const agedSpectrum = make('path', {d:spectrumPath(agedPeak), fill:'none', stroke:'#ffff00', 'stroke-width':4}, B);


const freshSpectrum = make('path', {d:spectrumPath(freshPeak), fill:'none', stroke:'#a6a6a6', 'stroke-width':3.4}, B);



yAxis(B, 331.5, 1756, 2159, '#222', 2.5, 'spectrum-y-axis');
yTicks(B, peakYTicks, yPeak, 302.7, 331.5, '#666', 2.5, 'spectrum-y-tick');
labelsAt(B, peakYTicks.map((v, i) => ({v:v, text:peakYLabels[i]})), () => 288, it => yPeak(it.v) + 13.5, 'end', 38, '#222', 'spectrum-y-tick-label');

const massAxis = make('line', {x1:331.5, x2:1338.6, y1:2158, y2:2158, stroke:'#888', 'stroke-width':3}, B);


xTicks(B, massMajorTicks, xMass, 2158, 2184.5, '#444', 2, 'mass-x-tick');
xTicks(B, massMinorTicks, xMass, 2158, 2172, '#444', 2, 'mass-x-minor-tick');
labelsAt(B, massMajorTicks.map(m => ({m:m, text:String(m)})), it => xMass(it.m), () => 2231.5, 'middle', 38, '#222', 'mass-x-tick-label');

// ---------- Panel (b) bottom: zoom on 185 Th ----------
const zoomAxis = make('line', {x1:1400, x2:1857.5, y1:2158, y2:2158, stroke:'#888', 'stroke-width':3}, B);


xTicks(B, zoomMajorTicks, xZoom, 2158, 2184.5, '#555', 2, 'zoom-x-tick');
xTicks(B, zoomMinorTicks, xZoom, 2158, 2172, '#444', 2, 'zoom-x-minor-tick');
labelsAt(B, zoomMajorTicks.map(m => ({m:m, text:m.toFixed(1)})), it => xZoom(it.m), () => 2231.5, 'middle', 38, '#222', 'zoom-x-tick-label');

const agedZoom = make('path', {d:curvePath(agedZoomMass.map(xZoom), agedZoomSignal.map(yZoom), 1), fill:'none', stroke:'#ffff00', 'stroke-width':3.5, 'stroke-linejoin':'round'}, B);


const freshZoom = make('path', {d:curvePath(freshZoomMass.map(xZoom), freshZoomSignal.map(yZoom), 1), fill:'none', stroke:'#a6a6a6', 'stroke-width':3, 'stroke-linejoin':'round'}, B);



yAxis(B, 1857.5, 1754, 2171, '#444', 2.5, 'zoom-y-axis');
yTicks(B, zoomYTicks, yZoom, 1857.5, 1886.7, '#444', 2.5, 'zoom-y-tick');
labelsAt(B, zoomYTicks.map(v => ({v:v, text:String(v)})), () => 1903, it => yZoom(it.v) + 13.5, 'start', 38, '#222', 'zoom-y-tick-label');
</script>
</body>
</html>
